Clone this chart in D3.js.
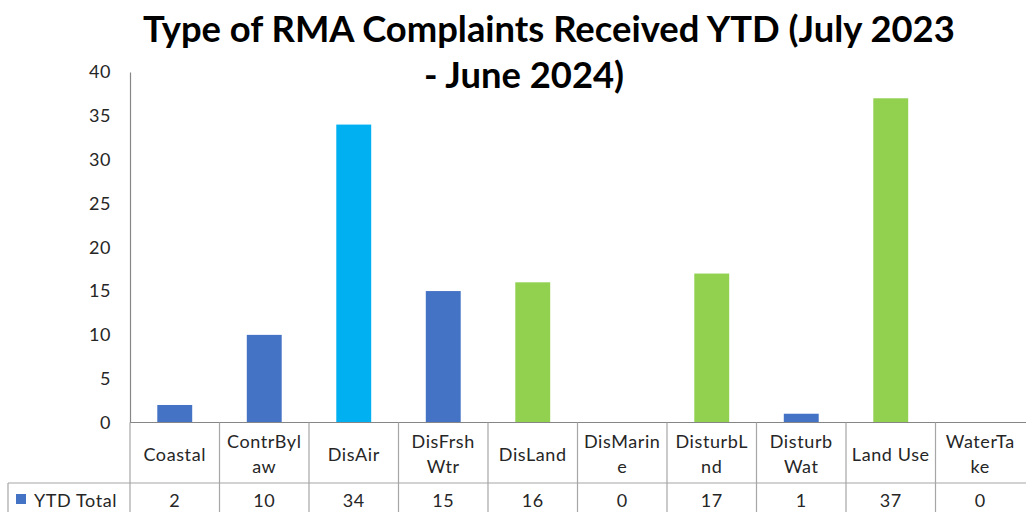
<!DOCTYPE html>
<html>
<head>
<meta charset="utf-8">
<script src="https://cdn.jsdelivr.net/npm/d3@7"></script>
<style>
  body { margin: 0; background: #fff; }
  svg { display: block; }
</style>
</head>
<body>
<script>
// chart data
var categories = ["Coastal", "ContrBylaw", "DisAir", "DisFrshWtr", "DisLand",
                  "DisMarine", "DisturbLnd", "DisturbWat", "Land Use", "WaterTake"];
var tickLabels = [["Coastal"], ["ContrByl", "aw"], ["DisAir"], ["DisFrsh", "Wtr"], ["DisLand"],
                  ["DisMarin", "e"], ["DisturbL", "nd"], ["Disturb", "Wat"], ["Land Use"], ["WaterTa", "ke"]];
var ytdTotal = [2, 10, 34, 15, 16, 0, 17, 1, 37, 0];
var yTicks = [0, 5, 10, 15, 20, 25, 30, 35, 40];
var seriesName = "YTD Total";
var titleLines = ["Type of RMA Complaints Received YTD (July 2023", "- June 2024)"];

var blue = "#4472C4", cyan = "#00B0F0", green = "#92D050";
var highlight = {"DisAir": cyan, "DisLand": green, "DisturbLnd": green, "Land Use": green};

var w = 1026, h = 512;
var font = "Lato, 'Open Sans', sans-serif";
var gridColor = "#a6a6a6";
var textColor = "#262626";

var svg = d3.select("body")
            .append("svg")
            .attr("width", w)
            .attr("height", h);

var plotLeft = 130, plotRight = 1025, plotTop = 72, base = 422.5;
var tableRow = 483, tableLeft = 8;

var xScale = d3.scaleBand()
               .domain(categories)
               .range([plotLeft, plotRight])
               .paddingInner(0.61)
               .paddingOuter(0.305);

var yScale = d3.scaleLinear()
               .domain([0, 40])
               .range([base, plotTop]);

var step = xScale.step();

// title, sized to the width of the original
var title = svg.append("g").attr("class", "title");
var t1 = title.append("text")
    .attr("x", 143).attr("y", 42)
    .attr("font-family", font).attr("font-weight", "bold")
    .attr("font-size", 34).attr("fill", "#000")
    .text(titleLines[0]);
var len = t1.node().getComputedTextLength();
var fs = 34 * 812 / len;
t1.attr("font-size", fs);
title.append("text")
    .attr("x", 524).attr("y", 88)
    .attr("text-anchor", "middle")
    .attr("font-family", font).attr("font-weight", "bold")
    .attr("font-size", fs).attr("fill", "#000")
    .text(titleLines[1]);

// y axis
var yAxis = d3.axisLeft(yScale)
              .tickValues(yTicks)
              .tickSize(0)
              .tickPadding(19);

var yg = svg.append("g")
    .attr("transform", "translate(" + plotLeft + ",0)")
    .call(yAxis);
yg.select(".domain").attr("stroke", "#868686").attr("stroke-width", 1.2);
yg.selectAll("text")
  .attr("font-family", font).attr("font-size", 18)
  .attr("letter-spacing", 0.6).attr("fill", textColor);

// bars
svg.append("g")
   .selectAll("rect")
   .data(categories)
   .enter()
   .append("rect")
   .attr("x", d => xScale(d))
   .attr("y", (d, i) => yScale(ytdTotal[i]))
   .attr("width", xScale.bandwidth())
   .attr("height", (d, i) => base - yScale(ytdTotal[i]))
   .attr("fill", d => highlight[d] || blue);

// data table
var table = svg.append("g").attr("stroke", gridColor).attr("stroke-width", 1.2);
table.append("line")
     .attr("x1", plotLeft).attr("x2", w).attr("y1", base).attr("y2", base)
     .attr("stroke", "#868686");
table.append("line")
     .attr("x1", tableLeft).attr("x2", w).attr("y1", tableRow).attr("y2", tableRow);
table.append("line")
     .attr("x1", tableLeft).attr("x2", tableLeft).attr("y1", tableRow).attr("y2", h);
table.selectAll("line.sep")
     .data(categories)
     .enter()
     .append("line")
     .attr("class", "sep")
     .attr("x1", d => xScale(d) - (step - xScale.bandwidth()) / 2)
     .attr("x2", d => xScale(d) - (step - xScale.bandwidth()) / 2)
     .attr("y1", base).attr("y2", h);

var labels = svg.append("g")
    .attr("font-family", font).attr("font-size", 18).attr("letter-spacing", 0.6)
    .attr("fill", textColor)
    .attr("text-anchor", "middle");

labels.selectAll("text.cat")
      .data(categories)
      .enter()
      .append("text")
      .attr("class", "cat")
      .attr("x", d => xScale(d) + xScale.bandwidth() / 2)
      .attr("y", (d, i) => tickLabels[i].length > 1 ? 447.5 : 461)
      .each(function(d, i) {
          var el = d3.select(this);
          tickLabels[i].forEach(function(s, k) {
              el.append("tspan")
                .attr("x", xScale(d) + xScale.bandwidth() / 2)
                .attr("dy", k === 0 ? 0 : 25)
                .text(s);
          });
      });

labels.selectAll("text.val")
      .data(categories)
      .enter()
      .append("text")
      .attr("class", "val")
      .attr("x", d => xScale(d) + xScale.bandwidth() / 2)
      .attr("y", 507)
      .text((d, i) => ytdTotal[i]);

// legend key in the table
svg.append("rect")
   .attr("x", 16).attr("y", 494).attr("width", 10).attr("height", 10)
   .attr("fill", blue);
svg.append("text")
   .attr("x", 34).attr("y", 507)
   .attr("font-family", font).attr("font-size", 18).attr("letter-spacing", 0.6)
   .attr("fill", textColor)
   .text(seriesName);
</script>
</body>
</html>
